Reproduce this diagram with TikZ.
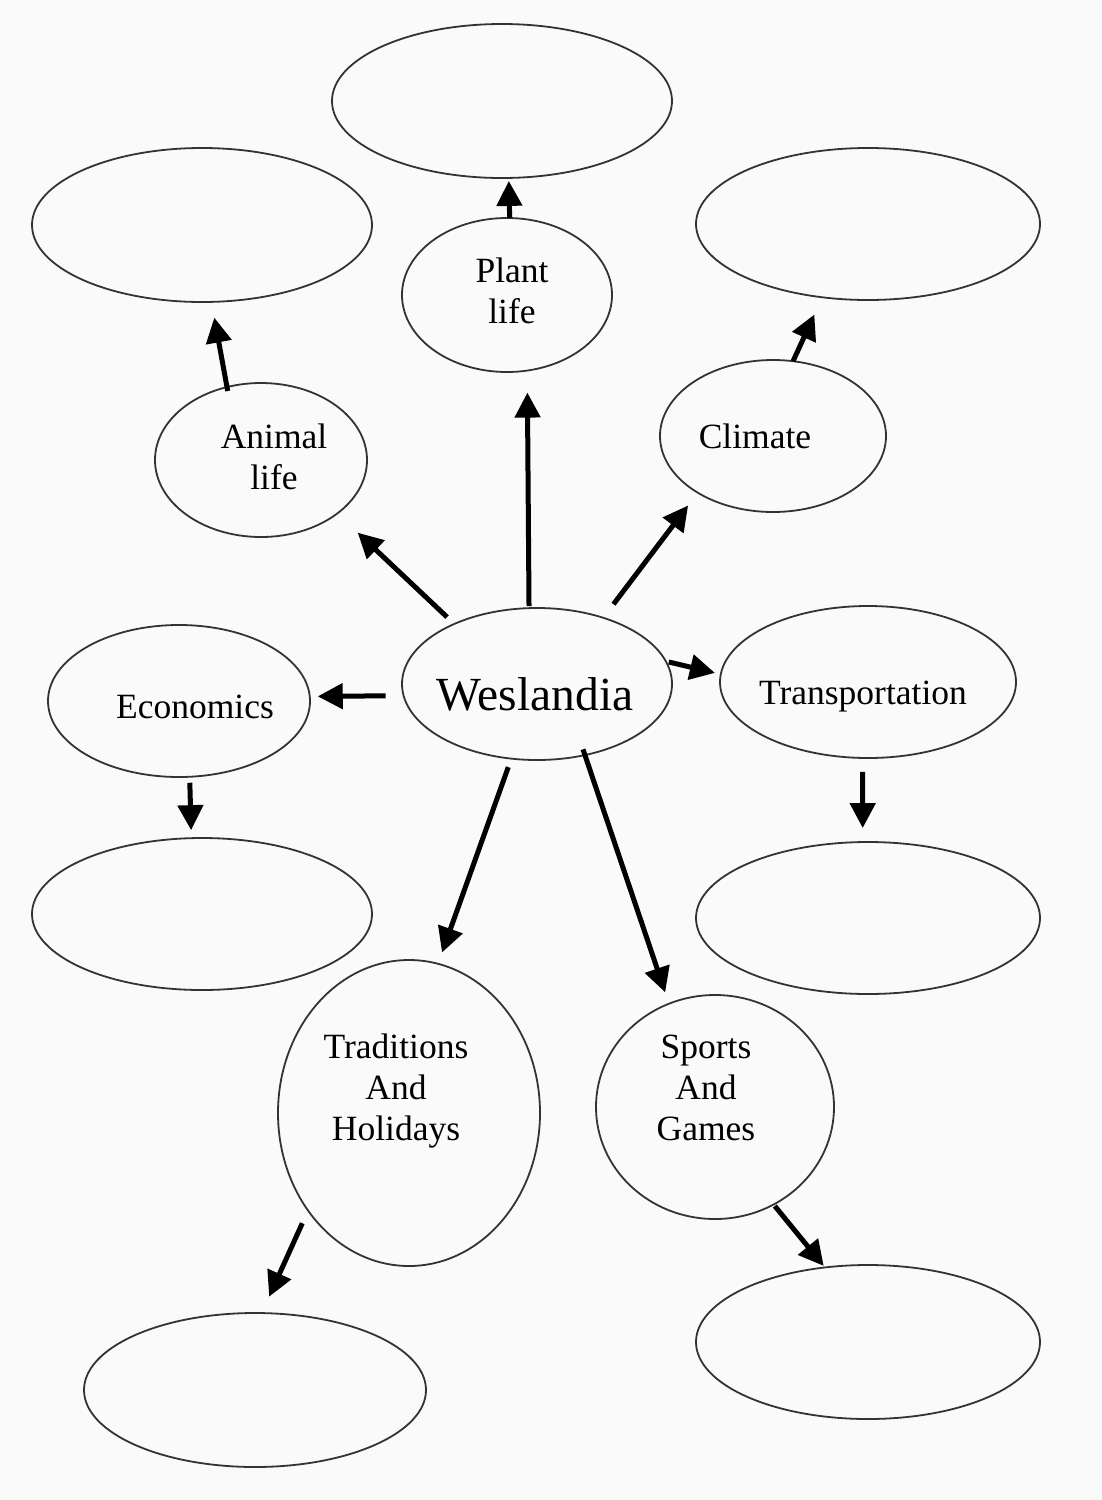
\documentclass[tikz,border=0pt]{standalone}
\usepackage{fontspec}
\setmainfont{Liberation Serif}
\usetikzlibrary{shapes.geometric,arrows.meta}
\tikzset{
  bub/.style={ellipse, draw=black!80, line width=1.8pt, inner sep=0pt, outer sep=0pt},
  txt/.style={align=center, font=\fontsize{35.5}{41}\selectfont, text=black, inner sep=0pt},
  big/.style={font=\fontsize{47.5}{50}\selectfont, text=black, inner sep=0pt},
  arr/.style={line width=5pt, black, -{Triangle[length=25pt,width=25pt]}}
}
\begin{document}
\begin{tikzpicture}[x=1pt,y=-1pt]
\fill[gray!4] (0,0) rectangle (1102,1500);
\useasboundingbox (0,0) rectangle (1102,1500);
% blank ellipses
\node[bub, minimum width=340pt, minimum height=154pt] (top) at (502,101) {};
\node[bub, minimum width=340pt, minimum height=154pt] (ablank) at (202,225) {};
\node[bub, minimum width=344pt, minimum height=152pt] (cblank) at (868,224) {};
\node[bub, minimum width=340pt, minimum height=152pt] (eblank) at (202,914) {};
\node[bub, minimum width=344pt, minimum height=152pt] (tblank) at (868,918) {};
\node[bub, minimum width=342pt, minimum height=154pt] (trblank) at (255,1390) {};
\node[bub, minimum width=344pt, minimum height=154pt] (sblank) at (868,1342) {};
% labelled ellipses
\node[bub, minimum width=210pt, minimum height=154pt] (plant) at (507,295) {};
\node[bub, minimum width=212pt, minimum height=154pt] (animal) at (261,460) {};
\node[bub, minimum width=226pt, minimum height=152pt] (climate) at (773,436) {};
\node[bub, minimum width=270pt, minimum height=152pt] (wes) at (537,684) {};
\node[bub, minimum width=262pt, minimum height=152pt] (econ) at (179,701) {};
\node[bub, minimum width=296pt, minimum height=152pt] (trans) at (868,682) {};
\node[bub, minimum width=262pt, minimum height=306pt] (trad) at (409,1113) {};
\node[bub, minimum width=238pt, minimum height=224pt] (sports) at (715,1107) {};
% texts
\node[txt] (plantT) at (512,291) {Plant\\life};
\node[txt] (animalT) at (274,457) {Animal\\life};
\node[txt] (climateT) at (755,436) {Climate};
\node[big] (wesT) at (535,694) {Weslandia};
\node[txt] (econT) at (195,707) {Economics};
\node[txt] (transT) at (863,697) {Transportation};
\node[txt] (tradT) at (396,1091) {Traditions\\And\\Holidays};
\node[txt] (sportsT) at (706,1088) {Sports\\And\\Games};
% arrows
\draw[arr, shorten <=2pt, shorten >=22pt] (wes.96) -- (plant.-75);
\draw[arr, shorten <=10pt, shorten >=28pt] (wes.144) -- (animal.-35);
\draw[arr, shorten <=17pt, shorten >=16pt] (wes.45) -- (climate.217);
\draw[arr, shorten <=18pt, shorten >=8pt] (wes.185) -- (econ.2);
\draw[arr, shorten <=3pt, shorten >=6pt] (wes.10) -- (trans.177);
\draw[arr, shorten <=9pt, shorten >=12pt] (wes.251) -- (trad.79);
\draw[arr, shorten <=-6pt, shorten >=12pt] (wes.-56) -- (sports.114);
\draw[arr, shorten >=3pt] (plant.88) -- (top.-85);
\draw[arr, shorten <=-4pt, shorten >=16pt] (animal.115) -- (ablank.-83);
\draw[arr, shorten >=19pt] (climate.75) -- (cblank.238);
\draw[arr, shorten <=6pt, shorten >=8pt] (econ.-82) -- (eblank.98);
\draw[arr, shorten <=14pt, shorten >=14pt] (trans.-94) -- (tblank.94);
\draw[arr, shorten <=14pt, shorten >=18pt] (trad.224) -- (trblank.85);
\draw[arr, shorten <=2pt, shorten >=2pt] (sports.-59) -- (sblank.120);
\end{tikzpicture}
\end{document}
